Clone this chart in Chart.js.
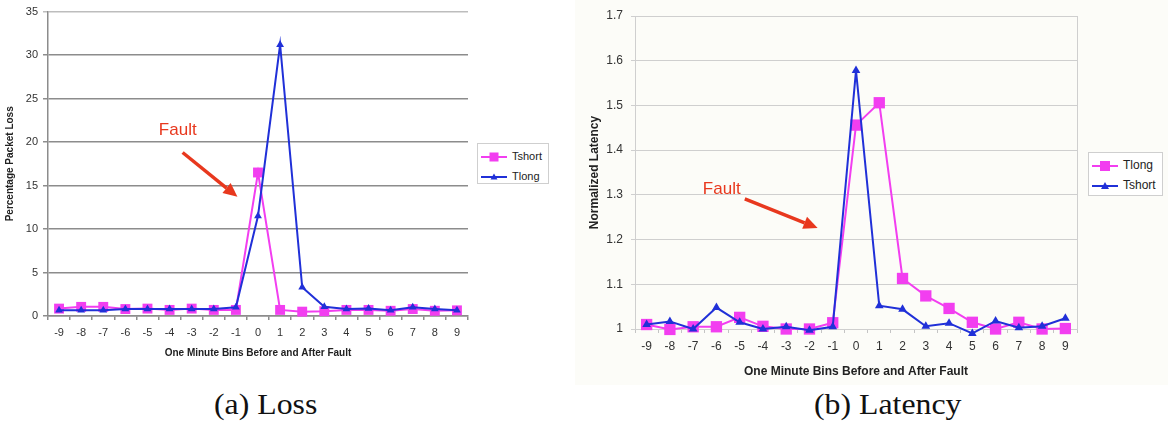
<!DOCTYPE html>
<html>
<head>
<meta charset="utf-8">
<script src="https://cdn.jsdelivr.net/npm/chart.js@4.4.1/dist/chart.umd.min.js"></script>
<style>
  body { margin:0; width:1168px; height:425px; overflow:hidden; position:relative; background:#fff;
         font-family:"Liberation Sans", Arial, sans-serif; }
  .panel { position:absolute; top:0; }
  #lossPanel { left:0; width:570px; height:365px; background:#fff; }
  #latPanel { left:575px; width:593px; height:385px; background:#fcfcf8; }
  canvas { position:absolute; left:0; top:0; }
  .legend { position:absolute; border:1px solid #cfcfcf; background:#fff; box-sizing:border-box; padding-top:2px; }
  .legend div { height:20px; line-height:20px; white-space:nowrap; color:#222; }
  .legend svg { vertical-align:middle; margin-right:2px; }
  .caption { position:absolute; top:387px; font-family:"Liberation Serif", "Times New Roman", serif; font-size:30px;
             line-height:34px; color:#111; transform:scaleX(1.06); transform-origin:left top; white-space:nowrap; }
</style>
</head>
<body>
<div class="panel" id="lossPanel">
  <canvas id="lossChart" width="475" height="365"></canvas>
  <div class="legend" id="lossLegend" style="left:477px;top:143px;width:72px;height:41px;font-size:11px;"></div>
</div>
<div class="panel" id="latPanel">
  <canvas id="latencyChart" width="510" height="385"></canvas>
  <div class="legend" id="latencyLegend" style="left:513px;top:152px;width:75px;height:44px;font-size:12px;"></div>
</div>
<div class="caption" style="left:214px;">(a) Loss</div>
<div class="caption" style="left:814px;">(b) Latency</div>

<script>
// one minute bins around the fault
var bins = ['-9','-8','-7','-6','-5','-4','-3','-2','-1','0','1','2','3','4','5','6','7','8','9'];

// (a) percentage packet loss
var lossTshort = [0.85,1.05,1.05,0.8,0.85,0.7,0.85,0.7,0.7,16.5,0.7,0.5,0.55,0.7,0.7,0.6,0.8,0.6,0.65];
var lossTlong  = [0.65,0.65,0.65,0.8,0.8,0.8,0.8,0.8,1.0,11.5,31.2,3.3,1.05,0.8,0.85,0.65,1.0,0.8,0.65];

// (b) normalized latency
var latencyTlong  = [1.010,0.999,1.005,1.005,1.026,1.006,1.000,1.000,1.014,1.456,1.506,1.113,1.074,1.046,1.015,1.000,1.015,1.000,1.001];
var latencyTshort = [1.010,1.017,1.000,1.048,1.015,1.000,1.005,0.997,1.005,1.578,1.052,1.044,1.006,1.013,0.990,1.018,1.003,1.006,1.024];

const magenta = '#f23ef0';
const blue    = '#2030d8';
const red     = '#e8381e';

Chart.defaults.font.family = '"Liberation Sans", Arial, sans-serif';
Chart.defaults.color = '#333';

// red "Fault" text + arrow, placed in data units
var faultArrow = {
  id: 'faultArrow',
  afterDatasetsDraw: function(chart, args, opts){
    var xs = chart.scales.x, ys = chart.scales.y, ctx = chart.ctx;
    function px(p){ return [xs.getPixelForValue(p[0]), ys.getPixelForValue(p[1])]; }
    var t = px(opts.label), a = px(opts.from), b = px(opts.to);
    var ang = Math.atan2(b[1]-a[1], b[0]-a[0]);
    var head = 14, half = 6.5;
    var c = Math.cos(ang), s = Math.sin(ang);
    ctx.save();
    ctx.fillStyle = red; ctx.strokeStyle = red;
    ctx.font = '17px "Liberation Sans", Arial, sans-serif';
    ctx.textAlign = 'center'; ctx.textBaseline = 'middle';
    ctx.fillText(opts.text, t[0], t[1]);
    ctx.lineWidth = 3.5;
    ctx.beginPath();
    ctx.moveTo(a[0], a[1]);
    ctx.lineTo(b[0]-c*head, b[1]-s*head);
    ctx.stroke();
    ctx.beginPath();
    ctx.moveTo(b[0], b[1]);
    ctx.lineTo(b[0]-c*head+s*half, b[1]-s*head-c*half);
    ctx.lineTo(b[0]-c*head-s*half, b[1]-s*head+c*half);
    ctx.closePath();
    ctx.fill();
    ctx.restore();
  }
};

// light frame round the plot area (latency chart)
var plotFrame = {
  id: 'plotFrame',
  beforeDatasetsDraw: function(chart, args, opts){
    var a = chart.chartArea, ctx = chart.ctx;
    ctx.save();
    ctx.strokeStyle = opts.color;
    ctx.lineWidth = 1;
    ctx.strokeRect(Math.round(a.left)+0.5, Math.round(a.top)+0.5, Math.round(a.right-a.left), Math.round(a.bottom-a.top));
    ctx.restore();
  }
};

function legendRow(name, color, marker, size){
  var m = marker === 'rect'
    ? `<rect x="${16-size/2}" y="${6-size/2}" width="${size}" height="${size}" fill="${color}"/>`
    : `<polygon points="16,${6-size/2} ${16+size/2},${6+size/2-1} ${16-size/2},${6+size/2-1}" fill="${color}"/>`;
  return `<div><svg width="32" height="12"><line x1="3" y1="6" x2="29" y2="6" stroke="${color}" stroke-width="2"/>${m}</svg>${name}</div>`;
}

function makeDataset(label, data, color, style, radius, order){
  return {
    label: label,
    data: data,
    borderColor: color,
    backgroundColor: color,
    borderWidth: 2,
    pointStyle: style,
    pointRadius: radius,
    pointBorderWidth: 0,
    pointBackgroundColor: color,
    tension: 0,
    clip: false,
    order: order
  };
}

function createLossChart(){
  var ctx = document.getElementById('lossChart').getContext('2d');
  new Chart(ctx, {
    type: 'line',
    data: {
      labels: bins,
      datasets: [
        makeDataset('Tshort', lossTshort, magenta, 'rect', 7, 2),
        makeDataset('Tlong', lossTlong, blue, 'triangle', 4.5, 1)
      ]
    },
    options: {
      responsive: false,
      animation: false,
      layout: { padding: { top: 10, right: 6, bottom: 0, left: 0 } },
      plugins: {
        legend: { display: false },
        tooltip: { enabled: false },
        faultArrow: { text: 'Fault', label: [5.37, 21.3], from: [5.59, 18.8], to: [8.07, 13.7] }
      },
      scales: {
        x: {
          offset: true,
          grid: { offset: true, drawOnChartArea: false, tickLength: 4, color: '#8c8c8c', lineWidth: 1.5 },
          border: { color: '#8c8c8c', width: 1.5 },
          ticks: { font: { size: 11 }, padding: 6, color: '#333', maxRotation: 0 },
          title: { display: true, text: 'One Minute Bins Before and After Fault', color: '#222',
                   font: { size: 10, weight: 'bold' }, padding: { top: 4, bottom: 6 } },
          afterFit: function(s){ s.height = 49; }
        },
        y: {
          min: 0, max: 35,
          ticks: { stepSize: 5, font: { size: 11 }, padding: 5, color: '#333' },
          grid: { tickLength: 5, lineWidth: 1.5,
                  color: function(c){ return c.tick && c.tick.value === 35 ? '#bdbdbd' : '#8c8c8c'; } },
          border: { color: '#8c8c8c', width: 1.5 },
          title: { display: true, text: 'Percentage Packet Loss', color: '#222',
                   font: { size: 10, weight: 'bold' }, padding: { top: 4, bottom: 0 } },
          afterFit: function(s){ s.width = 48; }
        }
      }
    },
    plugins: [faultArrow]
  });
  $legend('lossLegend', [
    legendRow('Tshort', magenta, 'rect', 9),
    legendRow('Tlong', blue, 'triangle', 7)
  ]);
}

function createLatencyChart(){
  var ctx = document.getElementById('latencyChart').getContext('2d');
  new Chart(ctx, {
    type: 'line',
    data: {
      labels: bins,
      datasets: [
        makeDataset('Tlong', latencyTlong, magenta, 'rect', 8, 2),
        makeDataset('Tshort', latencyTshort, blue, 'triangle', 5, 1)
      ]
    },
    options: {
      responsive: false,
      animation: false,
      layout: { padding: { top: 16, right: 7, bottom: 0, left: 0 } },
      plugins: {
        legend: { display: false },
        tooltip: { enabled: false },
        plotFrame: { color: '#cfcfcf' },
        faultArrow: { text: 'Fault', label: [3.23, 1.312], from: [4.22, 1.291], to: [7.35, 1.226] }
      },
      scales: {
        x: {
          offset: true,
          grid: { offset: true, drawOnChartArea: false, tickLength: 4, color: '#c4c4c4' },
          border: { color: '#c4c4c4' },
          ticks: { font: { size: 12 }, padding: 6, color: '#333', maxRotation: 0 },
          title: { display: true, text: 'One Minute Bins Before and After Fault', color: '#222',
                   font: { size: 12, weight: 'bold' }, padding: { top: 4, bottom: 6 } },
          afterFit: function(s){ s.height = 56; }
        },
        y: {
          min: 1, max: 1.7,
          ticks: { stepSize: 0.1, font: { size: 12 }, padding: 8, color: '#333',
                   callback: function(v){ return String(Math.round(v*10)/10); } },
          grid: { tickLength: 4, color: '#cfcfcf' },
          border: { color: '#c4c4c4' },
          title: { display: true, text: 'Normalized Latency', color: '#222',
                   font: { size: 12, weight: 'bold' }, padding: { top: 12, bottom: 0 } },
          afterFit: function(s){ s.width = 60; }
        }
      }
    },
    plugins: [plotFrame, faultArrow]
  });
  $legend('latencyLegend', [
    legendRow('Tlong', magenta, 'rect', 10),
    legendRow('Tshort', blue, 'triangle', 8)
  ]);
}

function $legend(id, rows){
  document.getElementById(id).innerHTML = rows.join('');
}

createLossChart();
createLatencyChart();
</script>
</body>
</html>
